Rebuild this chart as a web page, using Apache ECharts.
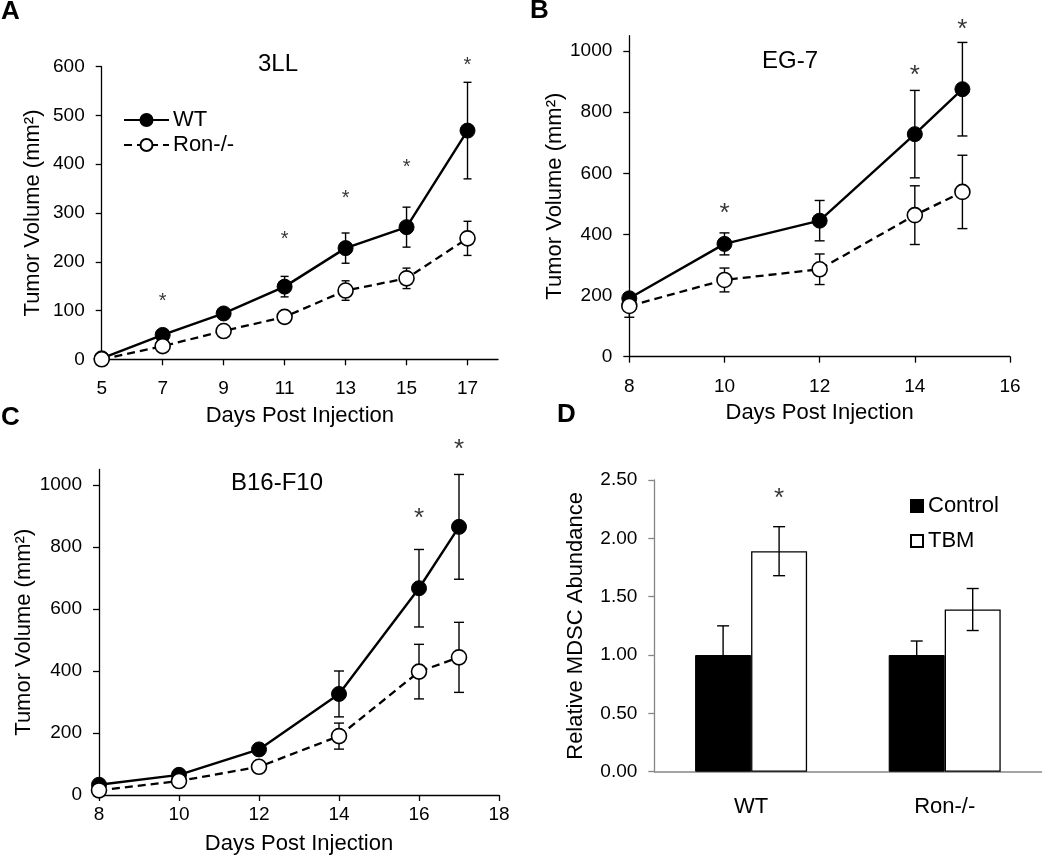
<!DOCTYPE html>
<html>
<head>
<meta charset="utf-8">
<script src="https://cdn.jsdelivr.net/npm/echarts@6/dist/echarts.min.js"></script>
<style>
html,body{margin:0;padding:0;background:#fff;}
#chart{width:1050px;height:858px;}
</style>
</head>
<body>
<div id="chart"></div>
<script>
// ---- Panel A (3LL) ----
const daysA = [5, 7, 9, 11, 13, 15, 17];
const wtA = [2, 50, 94, 149, 228, 271, 469];
const wtAErr = [2, 5, 6, 21, 31, 41, 99];
const ronA = [0, 27, 58, 87, 141, 166, 248];
const ronAErr = [2, 4, 5, 8, 20, 21, 35];
const ticksXA = [5, 7, 9, 11, 13, 15, 17];
const ticksYA = [0, 100, 200, 300, 400, 500, 600];
const starXA = [7, 11, 13, 15, 17];
const starYA = [128, 255, 340, 404, 612];

// ---- Panel B (EG-7) ----
const daysB = [8, 10, 12, 14, 15];
const wtB = [191, 369, 445, 728, 875];
const wtBErr = [10, 36, 66, 143, 153];
const ronB = [166, 251, 286, 463, 539];
const ronBErr = [37, 39, 50, 96, 120];
const ticksXB = [8, 10, 12, 14, 16];
const ticksYB = [0, 200, 400, 600, 800, 1000];
const starXB = [10, 14, 15];
const starYB = [491, 943, 1093];

// ---- Panel C (B16-F10) ----
const daysC = [8, 10, 12, 14, 16, 17];
const wtC = [33, 65, 147, 326, 667, 865];
const wtCErr = [8, 8, 15, 74, 125, 169];
const ronC = [15, 45, 91, 190, 398, 444];
const ronCErr = [5, 6, 10, 42, 88, 113];
const ticksXC = [8, 10, 12, 14, 16, 18];
const ticksYC = [0, 200, 400, 600, 800, 1000];
const starXC = [16, 17];
const starYC = [914, 1136];

// ---- Panel D (MDSC) ----
const groupsD = ['WT', 'Ron-/-'];
const controlD = [1.00, 1.00];
const controlDErr = [0.25, 0.12];
const tbmD = [1.89, 1.39];
const tbmDErr = [0.21, 0.18];
const ticksYD = [0, 0.5, 1.0, 1.5, 2.0, 2.5];
const starGroupD = [0];
const starYD = [2.40];

const FONT = "'Liberation Sans', Arial, sans-serif";
const BLACK = '#000';

function valueAxisX(grid, min, max, ticks, margin, name, nameGap) {
  return {
    type: 'value', gridIndex: grid, min: min, max: max,
    axisLine: { show: true, lineStyle: { color: BLACK, width: 1.3 } },
    axisTick: { show: true, inside: false, length: 6, customValues: ticks, lineStyle: { color: BLACK, width: 1.3 } },
    axisLabel: { customValues: ticks, margin: margin, fontSize: 19, color: BLACK, fontFamily: FONT, formatter: v => String(v) },
    splitLine: { show: false },
    name: name, nameLocation: 'middle', nameGap: nameGap,
    nameTextStyle: { fontSize: 22, color: BLACK, fontFamily: FONT }
  };
}
function valueAxisY(grid, min, max, ticks, name, nameGap, color, fmt) {
  return {
    type: 'value', gridIndex: grid, min: min, max: max,
    axisLine: { show: true, lineStyle: { color: color, width: 1.3 } },
    axisTick: { show: true, inside: false, length: 6, customValues: ticks, lineStyle: { color: color, width: 1.3 } },
    axisLabel: { customValues: ticks, margin: 17, fontSize: 19, color: BLACK, fontFamily: FONT, formatter: fmt },
    splitLine: { show: false },
    name: name, nameLocation: 'middle', nameGap: nameGap, nameRotate: 90,
    nameTextStyle: { fontSize: 22, color: BLACK, fontFamily: FONT }
  };
}

function lineSeries(idx, name, days, vals, filled) {
  return {
    type: 'line', name: name, xAxisIndex: idx, yAxisIndex: idx,
    data: days.map((d, i) => [d, vals[i]]),
    symbol: 'circle', symbolSize: 15,
    itemStyle: filled ? { color: BLACK, borderColor: BLACK, borderWidth: 1 } : { color: '#fff', borderColor: BLACK, borderWidth: 1.6 },
    lineStyle: filled ? { color: BLACK, width: 2.4, type: 'solid' } : { color: BLACK, width: 2.3, type: [8, 5] },
    z: 4, silent: true, clip: false
  };
}

function errSeries(idx, xs, vals, errs, cap, offset) {
  return {
    type: 'custom', xAxisIndex: idx, yAxisIndex: idx, silent: true, clip: false, z: 2,
    data: xs.map((x, i) => [x, vals[i] - errs[i], vals[i] + errs[i]]),
    renderItem: function (params, api) {
      const lo = api.coord([api.value(0), api.value(1)]);
      const hi = api.coord([api.value(0), api.value(2)]);
      const x = lo[0] + (offset || 0);
      const st = { stroke: BLACK, lineWidth: 1.4 };
      return {
        type: 'group', children: [
          { type: 'line', shape: { x1: x, y1: lo[1], x2: x, y2: hi[1] }, style: st },
          { type: 'line', shape: { x1: x - cap, y1: lo[1], x2: x + cap, y2: lo[1] }, style: st },
          { type: 'line', shape: { x1: x - cap, y1: hi[1], x2: x + cap, y2: hi[1] }, style: st }
        ]
      };
    }
  };
}

function starSeries(idx, xs, ys, size, offX) {
  return {
    type: 'scatter', xAxisIndex: idx, yAxisIndex: idx, silent: true, clip: false, z: 5,
    data: xs.map((x, i) => [x, ys[i]]),
    symbol: 'circle', symbolSize: 1, itemStyle: { color: 'rgba(0,0,0,0)' },
    label: { show: true, formatter: '*', position: 'inside', fontSize: size, color: BLACK, fontFamily: FONT, offset: [offX || 0, Math.round(size * 0.25)] }
  };
}

function txt(x, y, s, size, bold, align) {
  return {
    type: 'text', x: x, y: y, silent: true,
    style: { text: s, font: (bold ? 'bold ' : '') + size + 'px ' + FONT, fill: BLACK,
      textAlign: align || 'left', textVerticalAlign: 'middle', align: align || 'left', verticalAlign: 'middle' }
  };
}

const option = {
  animation: false,
  backgroundColor: '#fff',
  textStyle: { fontFamily: FONT },
  grid: [
    { left: 101.7, top: 66.7, width: 396.3, height: 292.6 },
    { left: 629.3, top: 35.7, width: 380.7, height: 321 },
    { left: 99, top: 469.5, width: 400, height: 325.5 },
    { left: 654.3, top: 480, width: 387.2, height: 291.7 }
  ],
  xAxis: [
    valueAxisX(0, 5, 18, ticksXA, 20, 'Days Post Injection', 46),
    valueAxisX(1, 8, 16, ticksXB, 21, 'Days Post Injection', 45),
    valueAxisX(2, 8, 18, ticksXC, 10, 'Days Post Injection', 38),
    {
      type: 'category', gridIndex: 3, data: groupsD,
      axisLine: { show: true, lineStyle: { color: '#868686', width: 1.5 } },
      axisTick: { show: false },
      axisLabel: { fontSize: 22, color: BLACK, fontFamily: FONT, margin: 24 },
      splitLine: { show: false }
    }
  ],
  yAxis: [
    valueAxisY(0, 0, 600, ticksYA, 'Tumor Volume (mm²)', 58, BLACK, v => String(v)),
    valueAxisY(1, 0, 1050, ticksYB, 'Tumor Volume (mm²)', 57, BLACK, v => String(v)),
    valueAxisY(2, 0, 1050, ticksYC, 'Tumor Volume (mm²)', 64, BLACK, v => String(v)),
    valueAxisY(3, 0, 2.5, ticksYD, 'Relative MDSC Abundance', 67, '#868686', v => v.toFixed(2))
  ],
  legend: [
    {
      data: ['WT', 'Ron-/-'], orient: 'vertical', left: 118, top: 104,
      itemWidth: 45, itemHeight: 15, itemGap: 3, selectedMode: false,
      textStyle: { fontSize: 22, color: BLACK, fontFamily: FONT, padding: [0, 0, 0, -1] }
    },
    {
      data: [{ name: 'Control', icon: 'rect' }, { name: 'TBM', icon: 'rect' }], orient: 'vertical', left: 905, top: 490,
      itemWidth: 12, itemHeight: 12, itemGap: 13, selectedMode: false,
      textStyle: { fontSize: 22, color: BLACK, fontFamily: FONT }
    }
  ],
  graphic: [
    txt(1, 12, 'A', 26, true),
    txt(530, 11, 'B', 26, true),
    txt(1, 418, 'C', 26, true),
    txt(557, 415, 'D', 26, true),
    txt(278, 64, '3LL', 24, false, 'center'),
    txt(790, 61, 'EG-7', 24, false, 'center'),
    txt(277, 483, 'B16-F10', 24, false, 'center')
  ],
  series: [
    errSeries(0, daysA, wtA, wtAErr, 4),
    errSeries(0, daysA, ronA, ronAErr, 4),
    lineSeries(0, 'WT', daysA, wtA, true),
    lineSeries(0, 'Ron-/-', daysA, ronA, false),
    starSeries(0, starXA, starYA, 20),

    errSeries(1, daysB, wtB, wtBErr, 5),
    errSeries(1, daysB, ronB, ronBErr, 5),
    lineSeries(1, 'WT', daysB, wtB, true),
    lineSeries(1, 'Ron-/-', daysB, ronB, false),
    starSeries(1, starXB, starYB, 26),

    errSeries(2, daysC, wtC, wtCErr, 5),
    errSeries(2, daysC, ronC, ronCErr, 5),
    lineSeries(2, 'WT', daysC, wtC, true),
    lineSeries(2, 'Ron-/-', daysC, ronC, false),
    starSeries(2, starXC, starYC, 26),

    {
      type: 'bar', name: 'Control', xAxisIndex: 3, yAxisIndex: 3, data: controlD,
      barWidth: 56, barGap: '0%', z: 1, silent: true,
      itemStyle: { color: BLACK, borderColor: BLACK, borderWidth: 1 }
    },
    {
      type: 'bar', name: 'TBM', xAxisIndex: 3, yAxisIndex: 3, data: tbmD,
      barWidth: 56, barGap: '0%', z: 1, silent: true,
      itemStyle: { color: '#fff', borderColor: BLACK, borderWidth: 1.3 }
    },
    Object.assign(errSeries(3, [0, 1], controlD, controlDErr, 6, -28), { z: 3 }),
    Object.assign(errSeries(3, [0, 1], tbmD, tbmDErr, 6, 28), { z: 3 }),
    starSeries(3, starGroupD, starYD, 26, 28)
  ]
};

const chart = echarts.init(document.getElementById('chart'), null, { renderer: 'canvas' });
chart.setOption(option);
</script>
</body>
</html>
